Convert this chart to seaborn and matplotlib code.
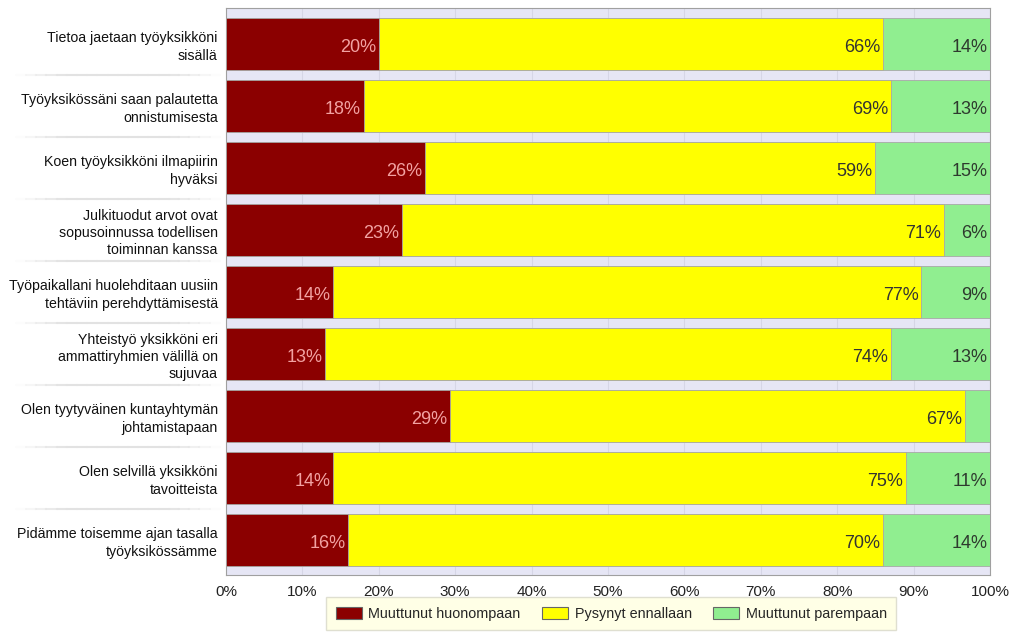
import matplotlib
matplotlib.use("Agg")
import matplotlib.pyplot as plt
import numpy as np
import pandas as pd
import seaborn as sns
from matplotlib.patches import Patch

categories = [
    "Tietoa jaetaan työyksikköni\nsisällä",
    "Työyksikössäni saan palautetta\nonnistumisesta",
    "Koen työyksikköni ilmapiirin\nhyväksi",
    "Julkituodut arvot ovat\nsopusoinnussa todellisen\ntoiminnan kanssa",
    "Työpaikallani huolehditaan uusiin\ntehtäviin perehdyttämisestä",
    "Yhteistyö yksikköni eri\nammattiryhmien välillä on\nsujuvaa",
    "Olen tyytyväinen kuntayhtymän\njohtamistapaan",
    "Olen selvillä yksikköni\ntavoitteista",
    "Pidämme toisemme ajan tasalla\ntyöyksikössämme",
]
# shares in % (labels are rounded)
worse = [20, 18, 26, 23, 14, 13, 29.3, 14, 16]
same = [66, 69, 59, 71, 77, 74, 67.4, 75, 70]
better = [14, 13, 15, 6, 9, 13, 3.3, 11, 14]
series = ["Muuttunut huonompaan", "Pysynyt ennallaan", "Muuttunut parempaan"]
colors = ["#8B0000", "#FFFF00", "#90EE90"]
label_colors = ["#F2A2A2", "#333333", "#2E3A2E"]
xticks = [0, 10, 20, 30, 40, 50, 60, 70, 80, 90, 100]

sns.set_style("white")
plt.rcParams["font.family"] = ["Liberation Sans", "DejaVu Sans"]

df = pd.DataFrame({"cat": categories, "worse": worse, "same": same, "better": better})
df["c1"] = df["worse"]
df["c2"] = df["worse"] + df["same"]
df["c3"] = df["c2"] + df["better"]

fig = plt.figure(figsize=(10.24, 6.4), dpi=100, facecolor="white")
ax = fig.add_axes([0.2207, 0.1016, 0.7461, 0.8859])
ax.set_facecolor("#E6E6F5")

# stacked: draw cumulative layers from the outside in
for col, c in zip(["c3", "c2", "c1"], colors[::-1]):
    sns.barplot(data=df, x=col, y="cat", orient="h", color=c, width=0.84,
                edgecolor="#A8A8A8", linewidth=0.6, saturation=1, ax=ax, zorder=3)

# value labels at the right end of each segment
for i in range(len(categories)):
    ends = [df["c1"][i], df["c2"][i], df["c3"][i]]
    vals = [worse[i], same[i], better[i]]
    for k in range(3):
        if vals[k] < 5:
            continue
        ax.text(ends[k] - 0.35, i + 0.05, f"{round(vals[k])}%", ha="right", va="center",
                fontsize=13, color=label_colors[k], zorder=5)

ax.set_xlim(0, 100)
ax.set_ylim(8.565, -0.58)
ax.set_xticks(xticks)
ax.set_xticklabels([f"{t}%" for t in xticks], fontsize=11, color="#222222")
ax.tick_params(axis="x", length=0, pad=7)
ax.set_yticks(range(len(categories)))
ax.set_yticklabels(categories, fontsize=10.2, color="#111111", ha="right", linespacing=1.3)
ax.tick_params(axis="y", length=0, pad=6)
ax.set_xlabel("")
ax.set_ylabel("")
ax.xaxis.grid(True, color="#D6D6E6", lw=0.8, zorder=0)
ax.set_axisbelow(True)
for s in ax.spines.values():
    s.set_color("#A0A0A0")
    s.set_linewidth(0.8)

# faint separators between category labels, fading at the ends
edges = np.linspace(-0.275, -0.008, 21)
for i in range(len(categories) - 1):
    for j in range(20):
        mid = (j + 0.5) / 20
        a = min(1.0, 4 * min(mid, 1 - mid))
        ax.axhline(i + 0.5, xmin=edges[j], xmax=edges[j + 1], color="#E2E2E2",
                   alpha=a, lw=1.5, clip_on=False)

handles = [Patch(facecolor=c, edgecolor="#666666", lw=0.8) for c in colors]
leg = fig.legend(handles, series, loc="center", bbox_to_anchor=(0.597, 0.041), ncol=3,
                 fontsize=10.4, frameon=True, fancybox=False, handlelength=1.8,
                 handleheight=0.85, columnspacing=1.5, borderpad=0.65, handletextpad=0.45)
leg.get_frame().set_facecolor("#FFFFE0")
leg.get_frame().set_edgecolor("#D8D8C8")

fig.savefig("out.png", dpi=100, facecolor="white")
